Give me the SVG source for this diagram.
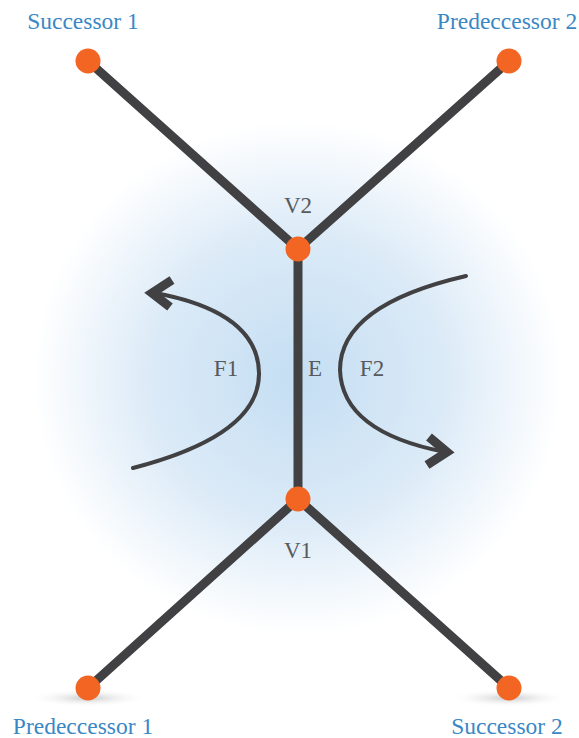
<svg xmlns="http://www.w3.org/2000/svg" width="579" height="738" viewBox="0 0 579 738">
<defs>
<radialGradient id="bg" cx="298" cy="378" r="265" gradientUnits="userSpaceOnUse" gradientTransform="translate(298 378) scale(1 0.97) translate(-298 -378)">
<stop offset="0" stop-color="#c4def3"/>
<stop offset="0.55" stop-color="#dbeaf7"/>
<stop offset="1" stop-color="#ffffff"/>
</radialGradient>
<radialGradient id="sh" cx="0.5" cy="0.5" r="0.5">
<stop offset="0" stop-color="#c8c9cb"/>
<stop offset="1" stop-color="#ffffff" stop-opacity="0"/>
</radialGradient>
<style>
.edge{stroke:#414042;stroke-width:9;stroke-linecap:round;fill:none}
.face{stroke:#414042;stroke-width:4;fill:none;stroke-linecap:round}
.head{stroke:#414042;stroke-width:9;fill:none;stroke-linejoin:miter;stroke-miterlimit:10}
.node{fill:#f26522}
.lbl{font-family:"Liberation Serif","DejaVu Serif",serif;font-size:23.5px;fill:#3a87c6;text-anchor:middle}
.tag{font-family:"Liberation Serif","DejaVu Serif",serif;font-size:23px;fill:#58595b;text-anchor:middle}
</style>
</defs>
<rect width="579" height="738" fill="#ffffff"/>
<ellipse cx="298" cy="378" rx="275" ry="265" fill="url(#bg)"/>
<ellipse cx="88" cy="698" rx="60" ry="9" fill="url(#sh)"/>
<ellipse cx="509" cy="698" rx="60" ry="9" fill="url(#sh)"/>
<g id="connectors">
<line class="edge" x1="88" y1="61" x2="298" y2="249"/>
<line class="edge" x1="509" y1="61" x2="298" y2="249"/>
<line class="edge" x1="298" y1="249" x2="298" y2="499"/>
<line class="edge" x1="298" y1="499" x2="88" y2="688"/>
<line class="edge" x1="298" y1="499" x2="509" y2="688"/>
<path class="face" d="M133,468 Q260,435 259,373 Q258,312 155,293"/>
<polyline class="head" points="172,280 152,293 170,307"/>
<path class="face" d="M466,276 Q340,305 340,370 Q342,432 445,452"/>
<polyline class="head" points="429,437 447,452 427,465"/>
</g>
<g id="succ1"><circle class="node" cx="88" cy="61" r="12.5"/><text class="lbl" x="83" y="29">Successor 1</text></g>
<g id="pred2"><circle class="node" cx="509" cy="61" r="12.5"/><text class="lbl" x="507" y="29">Predeccessor 2</text></g>
<g id="v2"><circle class="node" cx="298" cy="249" r="12.5"/><text class="tag" x="298" y="213">V2</text></g>
<g id="v1"><circle class="node" cx="298" cy="499" r="12.5"/><text class="tag" x="298" y="558">V1</text></g>
<g id="pred1"><circle class="node" cx="88" cy="688" r="12.5"/><text class="lbl" x="83" y="734">Predeccessor 1</text></g>
<g id="succ2"><circle class="node" cx="509" cy="688" r="12.5"/><text class="lbl" x="507" y="734">Successor 2</text></g>
<g id="labels">
<text class="tag" x="226" y="376">F1</text>
<text class="tag" x="315" y="376">E</text>
<text class="tag" x="372" y="376">F2</text>
</g>
</svg>
